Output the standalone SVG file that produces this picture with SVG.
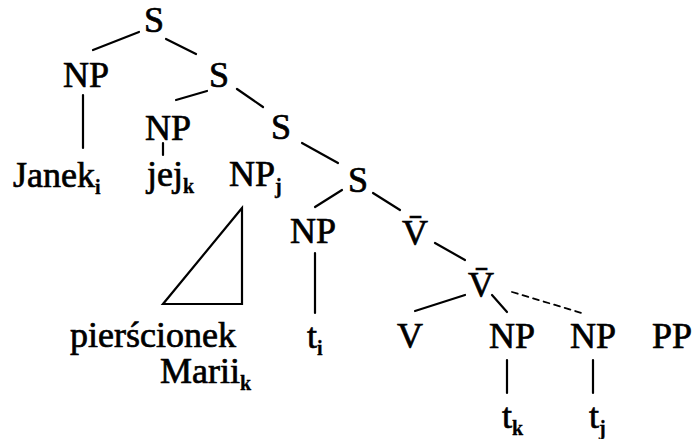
<svg xmlns="http://www.w3.org/2000/svg" width="694" height="439" viewBox="0 0 694 439">
<style>
text{font-family:"Liberation Serif","Times New Roman",serif;font-size:36px;fill:#000;stroke:#000;stroke-width:0.7px}
.c{text-anchor:middle}
.sub{font-size:20px;font-weight:bold;stroke-width:0.3px}
.e{stroke:#000;stroke-width:2.2;fill:none;stroke-linecap:round}
.d{stroke-dasharray:6 5;stroke-width:1.8}
</style>
<rect width="694" height="439" fill="#fff"/>
<g id="connectors">
<line class="e" x1="93" y1="50" x2="139" y2="32"/>
<line class="e" x1="166" y1="39" x2="196" y2="54"/>
<line class="e" x1="83" y1="95" x2="83" y2="148"/>
<line class="e" x1="176" y1="100" x2="207" y2="91"/>
<line class="e" x1="237" y1="89" x2="263" y2="107"/>
<line class="e" x1="163" y1="143" x2="163" y2="155"/>
<line class="e" x1="302" y1="143" x2="338" y2="163"/>
<line class="e" x1="342" y1="190" x2="315" y2="207"/>
<line class="e" x1="373" y1="193" x2="400" y2="210"/>
<line class="e" x1="315" y1="253" x2="315" y2="313"/>
<line class="e" x1="435" y1="243" x2="465" y2="260"/>
<line class="e" x1="465" y1="295" x2="415" y2="311"/>
<line class="e" x1="492" y1="295" x2="507" y2="312"/>
<line class="e d" x1="512" y1="292" x2="585" y2="314"/>
<line class="e" x1="507" y1="360" x2="507" y2="393"/>
<line class="e" x1="593" y1="360" x2="593" y2="393"/>
<polygon class="e" points="242,208 163,304 242,304"/>
</g>
<g id="S1"><text class="c" x="154" y="32">S</text></g>
<g id="NP1"><text class="c" x="86" y="87">NP</text></g>
<g id="S2"><text class="c" x="219" y="87">S</text></g>
<g id="Janek"><text x="13" y="187">Janek<tspan class="sub" dy="7">i</tspan></text></g>
<g id="NP2"><text class="c" x="168" y="140">NP</text></g>
<g id="S3"><text class="c" x="281" y="139">S</text></g>
<g id="jej"><text x="147" y="186">jej<tspan class="sub" dy="7">k</tspan></text></g>
<g id="NPj"><text x="229" y="186">NP<tspan class="sub" dy="7">j</tspan></text></g>
<g id="S4"><text class="c" x="358" y="192">S</text></g>
<g id="NP3"><text class="c" x="313" y="243">NP</text></g>
<g id="Vbar1"><text class="c" x="415" y="245">V̄</text></g>
<g id="Vbar2"><text class="c" x="481" y="297">V̄</text></g>
<g id="ti"><text x="307" y="348">t<tspan class="sub" dy="7">i</tspan></text></g>
<g id="V"><text class="c" x="410" y="348">V</text></g>
<g id="NP4"><text class="c" x="512" y="348">NP</text></g>
<g id="NP5"><text class="c" x="593" y="348">NP</text></g>
<g id="PP"><text class="c" x="672" y="348">PP</text></g>
<g id="pierscionek"><text x="70" y="347">pierścionek</text><text x="160" y="383">Marii<tspan class="sub" dy="7">k</tspan></text></g>
<g id="tk"><text x="502" y="428">t<tspan class="sub" dy="7">k</tspan></text></g>
<g id="tj"><text x="589" y="428">t<tspan class="sub" dy="7">j</tspan></text></g>
</svg>
